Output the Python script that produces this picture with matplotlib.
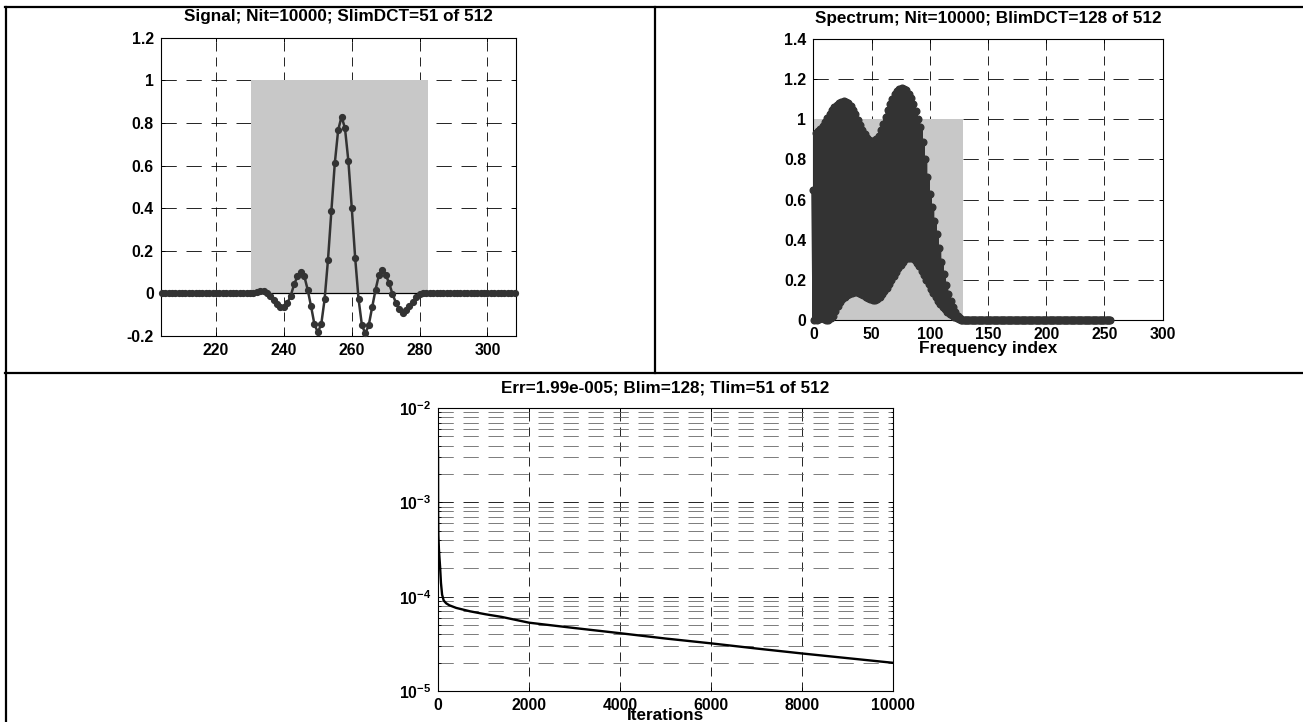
import numpy as np
import matplotlib
matplotlib.use("Agg")
import matplotlib.pyplot as plt
from matplotlib.lines import Line2D
from matplotlib.patches import Rectangle
from matplotlib.ticker import FixedLocator, FixedFormatter, NullFormatter

# ---------------- data ----------------
# Signal (time domain), samples 204..308
sig_k = list(range(204, 309))
sig_vals = ([0.0] * 27 +
            [0.002, 0.006, 0.010, 0.009, 0.002, -0.012, -0.030, -0.050, -0.063, -0.065,
             -0.047, -0.012, 0.042, 0.080, 0.102, 0.082, 0.018, -0.060, -0.145, -0.182,
             -0.146, -0.028, 0.158, 0.388, 0.610, 0.767, 0.830, 0.775, 0.622, 0.402,
             0.168, -0.026, -0.150, -0.188, -0.150, -0.066, 0.016, 0.086, 0.112, 0.088,
             0.048, -0.002, -0.044, -0.075, -0.090, -0.080, -0.060, -0.040, -0.018, -0.004,
             0.0] +
            [0.0] * 27)
sig_window = (230.4, 282.5)          # SlimDCT support window (gray)
sig_xticks = [220, 240, 260, 280, 300]
sig_yticks = [-0.2, 0, 0.2, 0.4, 0.6, 0.8, 1.0, 1.2]
sig_ylabels = ["-0.2", "0", "0.2", "0.4", "0.6", "0.8", "1", "1.2"]

# Spectrum (DCT magnitude), even and odd indices 0..127, then zeros to 255
spec_even = [0.65, 0.93, 0.94, 0.95, 0.965, 0.985, 1.005, 1.025, 1.045, 1.06,
             1.072, 1.082, 1.088, 1.09, 1.088, 1.08, 1.066, 1.047, 1.024, 0.998,
             0.972, 0.947, 0.925, 0.908, 0.897, 0.891, 0.892, 0.90, 0.918, 0.945,
             0.978, 1.013, 1.046, 1.077, 1.103, 1.124, 1.14, 1.15, 1.155, 1.153,
             1.144, 1.128, 1.105, 1.076, 1.04, 1.0, 0.96, 0.885, 0.80, 0.71,
             0.63, 0.565, 0.495, 0.43, 0.36, 0.29, 0.23, 0.175, 0.13, 0.095,
             0.065, 0.04, 0.02, 0.008]
spec_odd = [0.0, 0.0, 0.004, 0.008, 0.006, 0.002, 0.0, 0.008, 0.022, 0.045,
            0.068, 0.088, 0.103, 0.115, 0.124, 0.131, 0.137, 0.14, 0.14, 0.137,
            0.131, 0.123, 0.115, 0.108, 0.103, 0.10, 0.101, 0.106, 0.115, 0.128,
            0.143, 0.16, 0.178, 0.197, 0.217, 0.237, 0.257, 0.275, 0.29, 0.302,
            0.309, 0.311, 0.308, 0.299, 0.285, 0.267, 0.246, 0.224, 0.20, 0.177,
            0.155, 0.134, 0.114, 0.096, 0.08, 0.066, 0.053, 0.042, 0.032, 0.024,
            0.016, 0.01, 0.005, 0.002]
spec_tail = [0.0] * 128
spec_window = (0.0, 128.3)
spec_xticks = [0, 50, 100, 150, 200, 250, 300]
spec_yticks = [0, 0.2, 0.4, 0.6, 0.8, 1.0, 1.2, 1.4]
spec_ylabels = ["0", "0.2", "0.4", "0.6", "0.8", "1", "1.2", "1.4"]

# Error vs iterations
err_iter = [1, 3, 8, 20, 30, 45, 65, 90, 125, 180, 250, 400, 700, 1050, 1400,
            2000, 3000, 4000, 5000, 6000, 7000, 8000, 9000, 10000]
err_vals = [3.5e-3, 8e-4, 4.5e-4, 3.2e-4, 2.7e-4, 2.1e-4, 1.4e-4, 1.05e-4, 9.1e-5, 8.5e-5,
            8.1e-5, 7.6e-5, 7.0e-5, 6.5e-5, 6.1e-5, 5.3e-5, 4.65e-5, 4.1e-5, 3.6e-5,
            3.2e-5, 2.82e-5, 2.5e-5, 2.23e-5, 1.99e-5]
err_xticks = [0, 2000, 4000, 6000, 8000, 10000]
err_yticks = [1e-5, 1e-4, 1e-3, 1e-2]
err_ylabels = [r"$\mathrm{10^{-5}}$", r"$\mathrm{10^{-4}}$", r"$\mathrm{10^{-3}}$", r"$\mathrm{10^{-2}}$"]

titles = ["Signal; Nit=10000; SlimDCT=51 of 512",
          "Spectrum; Nit=10000; BlimDCT=128 of 512",
          "Err=1.99e-005; Blim=128; Tlim=51 of 512"]

# ---------------- style ----------------
plt.rcParams.update({
    "font.family": ["Liberation Sans", "DejaVu Sans"],
    "font.weight": "bold",
    "mathtext.fontset": "custom",
    "mathtext.rm": "Liberation Sans:bold",
    "mathtext.it": "Liberation Sans:bold",
    "mathtext.bf": "Liberation Sans:bold",
    "lines.scale_dashes": False,
    "axes.linewidth": 0.8,
})

W, H = 1303, 722
fig = plt.figure(figsize=(W / 100, H / 100), dpi=100)
fig.patch.set_facecolor("white")

DARK = "#333333"
GRAYFILL = "#c8c8c8"
HDASH = (0, (11.0, 7.0))
VDASH = (0, (6.5, 4.3))
TICK_FS = 11.4
TITLE_FS = 12.3


def px_axes(l, t, r, b):
    return fig.add_axes([l / W, 1 - b / H, (r - l) / W, (b - t) / H])


def style(ax):
    ax.tick_params(which="major", direction="in", top=True, right=True,
                   length=3, width=0.7, labelsize=TICK_FS, pad=5)
    ax.tick_params(which="minor", direction="in", top=True, right=True,
                   length=1.8, width=0.6)
    ax.set_axisbelow(True)
    for sp in ax.spines.values():
        sp.set_color("black")
    for lab in ax.get_xticklabels() + ax.get_yticklabels():
        lab.set_fontweight("bold")


def ftext(x, y, s, fs=TITLE_FS):
    fig.text(x / W, 1 - y / H, s, ha="center", va="center", fontsize=fs, fontweight="bold")


# ---------------- signal ----------------
ax1 = px_axes(160.7, 37.7, 516, 336)
ax1.add_patch(Rectangle((sig_window[0], 0), sig_window[1] - sig_window[0], 1.0,
                        facecolor=GRAYFILL, edgecolor="none", zorder=1))
ax1.axhline(0, color="black", lw=0.9, zorder=2)
ax1.plot(sig_k, sig_vals, "-o", color=DARK, lw=1.8, ms=4.2, mfc=DARK, mec=DARK,
         zorder=3, clip_on=False)
ax1.set_xlim(203.7, 308.4)
ax1.set_ylim(-0.2, 1.2)
ax1.xaxis.set_major_locator(FixedLocator(sig_xticks))
ax1.xaxis.set_major_formatter(FixedFormatter([str(v) for v in sig_xticks]))
ax1.yaxis.set_major_locator(FixedLocator(sig_yticks))
ax1.yaxis.set_major_formatter(FixedFormatter(sig_ylabels))
ax1.xaxis.grid(True, color="black", linestyle=VDASH, lw=0.6)
ax1.yaxis.grid(True, color="black", linestyle=HDASH, lw=0.6)
style(ax1)
ftext(338, 17, titles[0])

# ---------------- spectrum ----------------
spec = np.empty(len(spec_even) + len(spec_odd))
spec[0::2] = spec_even
spec[1::2] = spec_odd
spec = np.concatenate([spec, spec_tail])
spec_k = np.arange(len(spec))

ax2 = px_axes(813.3, 39, 1162.7, 320)
ax2.add_patch(Rectangle((spec_window[0], 0), spec_window[1] - spec_window[0], 1.0,
                        facecolor=GRAYFILL, edgecolor="none", zorder=1))
ax2.plot(spec_k, spec, "-o", color=DARK, lw=3.0, ms=4.8, mfc=DARK, mec=DARK,
         zorder=3, clip_on=False)
ax2.set_xlim(0, 300)
ax2.set_ylim(0, 1.4)
ax2.xaxis.set_major_locator(FixedLocator(spec_xticks))
ax2.xaxis.set_major_formatter(FixedFormatter([str(v) for v in spec_xticks]))
ax2.yaxis.set_major_locator(FixedLocator(spec_yticks))
ax2.yaxis.set_major_formatter(FixedFormatter(spec_ylabels))
ax2.xaxis.grid(True, color="black", linestyle=VDASH, lw=0.6)
ax2.yaxis.grid(True, color="black", linestyle=HDASH, lw=0.6)
style(ax2)
ftext(988, 18, titles[1])
ftext(988, 348, "Frequency index", fs=12.5)

# ---------------- error ----------------
ax3 = px_axes(438, 408, 893, 691)
ax3.set_yscale("log")
ax3.plot(err_iter, err_vals, "-", color="black", lw=1.7, zorder=3)
ax3.set_xlim(0, 10000)
ax3.set_ylim(1e-5, 1e-2)
ax3.xaxis.set_major_locator(FixedLocator(err_xticks))
ax3.xaxis.set_major_formatter(FixedFormatter([str(v) for v in err_xticks]))
ax3.yaxis.set_major_locator(FixedLocator(err_yticks))
ax3.yaxis.set_major_formatter(FixedFormatter(err_ylabels))
minor = [m * 10.0 ** e for e in (-5, -4, -3) for m in range(2, 10)]
ax3.yaxis.set_minor_locator(FixedLocator(minor))
ax3.yaxis.set_minor_formatter(NullFormatter())
ax3.xaxis.grid(True, which="major", color="black", linestyle=VDASH, lw=0.6)
ax3.yaxis.grid(True, which="major", color="black", linestyle=HDASH, lw=0.6)
ax3.yaxis.grid(True, which="minor", color="#666666", linestyle=HDASH, lw=0.6)
style(ax3)
ftext(665, 388, titles[2])
ftext(665, 716, "Iterations", fs=12.3)

# ---------------- table frame lines ----------------
frame_lines = [((5, 7), (1303, 7)),      # top
               ((6, 7), (6, 722)),       # left
               ((655, 7), (655, 373)),   # divider
               ((5, 373), (1303, 373))]  # row separator
for (x0, y0), (x1, y1) in frame_lines:
    fig.add_artist(Line2D([x0 / W, x1 / W], [1 - y0 / H, 1 - y1 / H],
                          transform=fig.transFigure, color="black", lw=1.6))

fig.savefig("out.png", dpi=100)
